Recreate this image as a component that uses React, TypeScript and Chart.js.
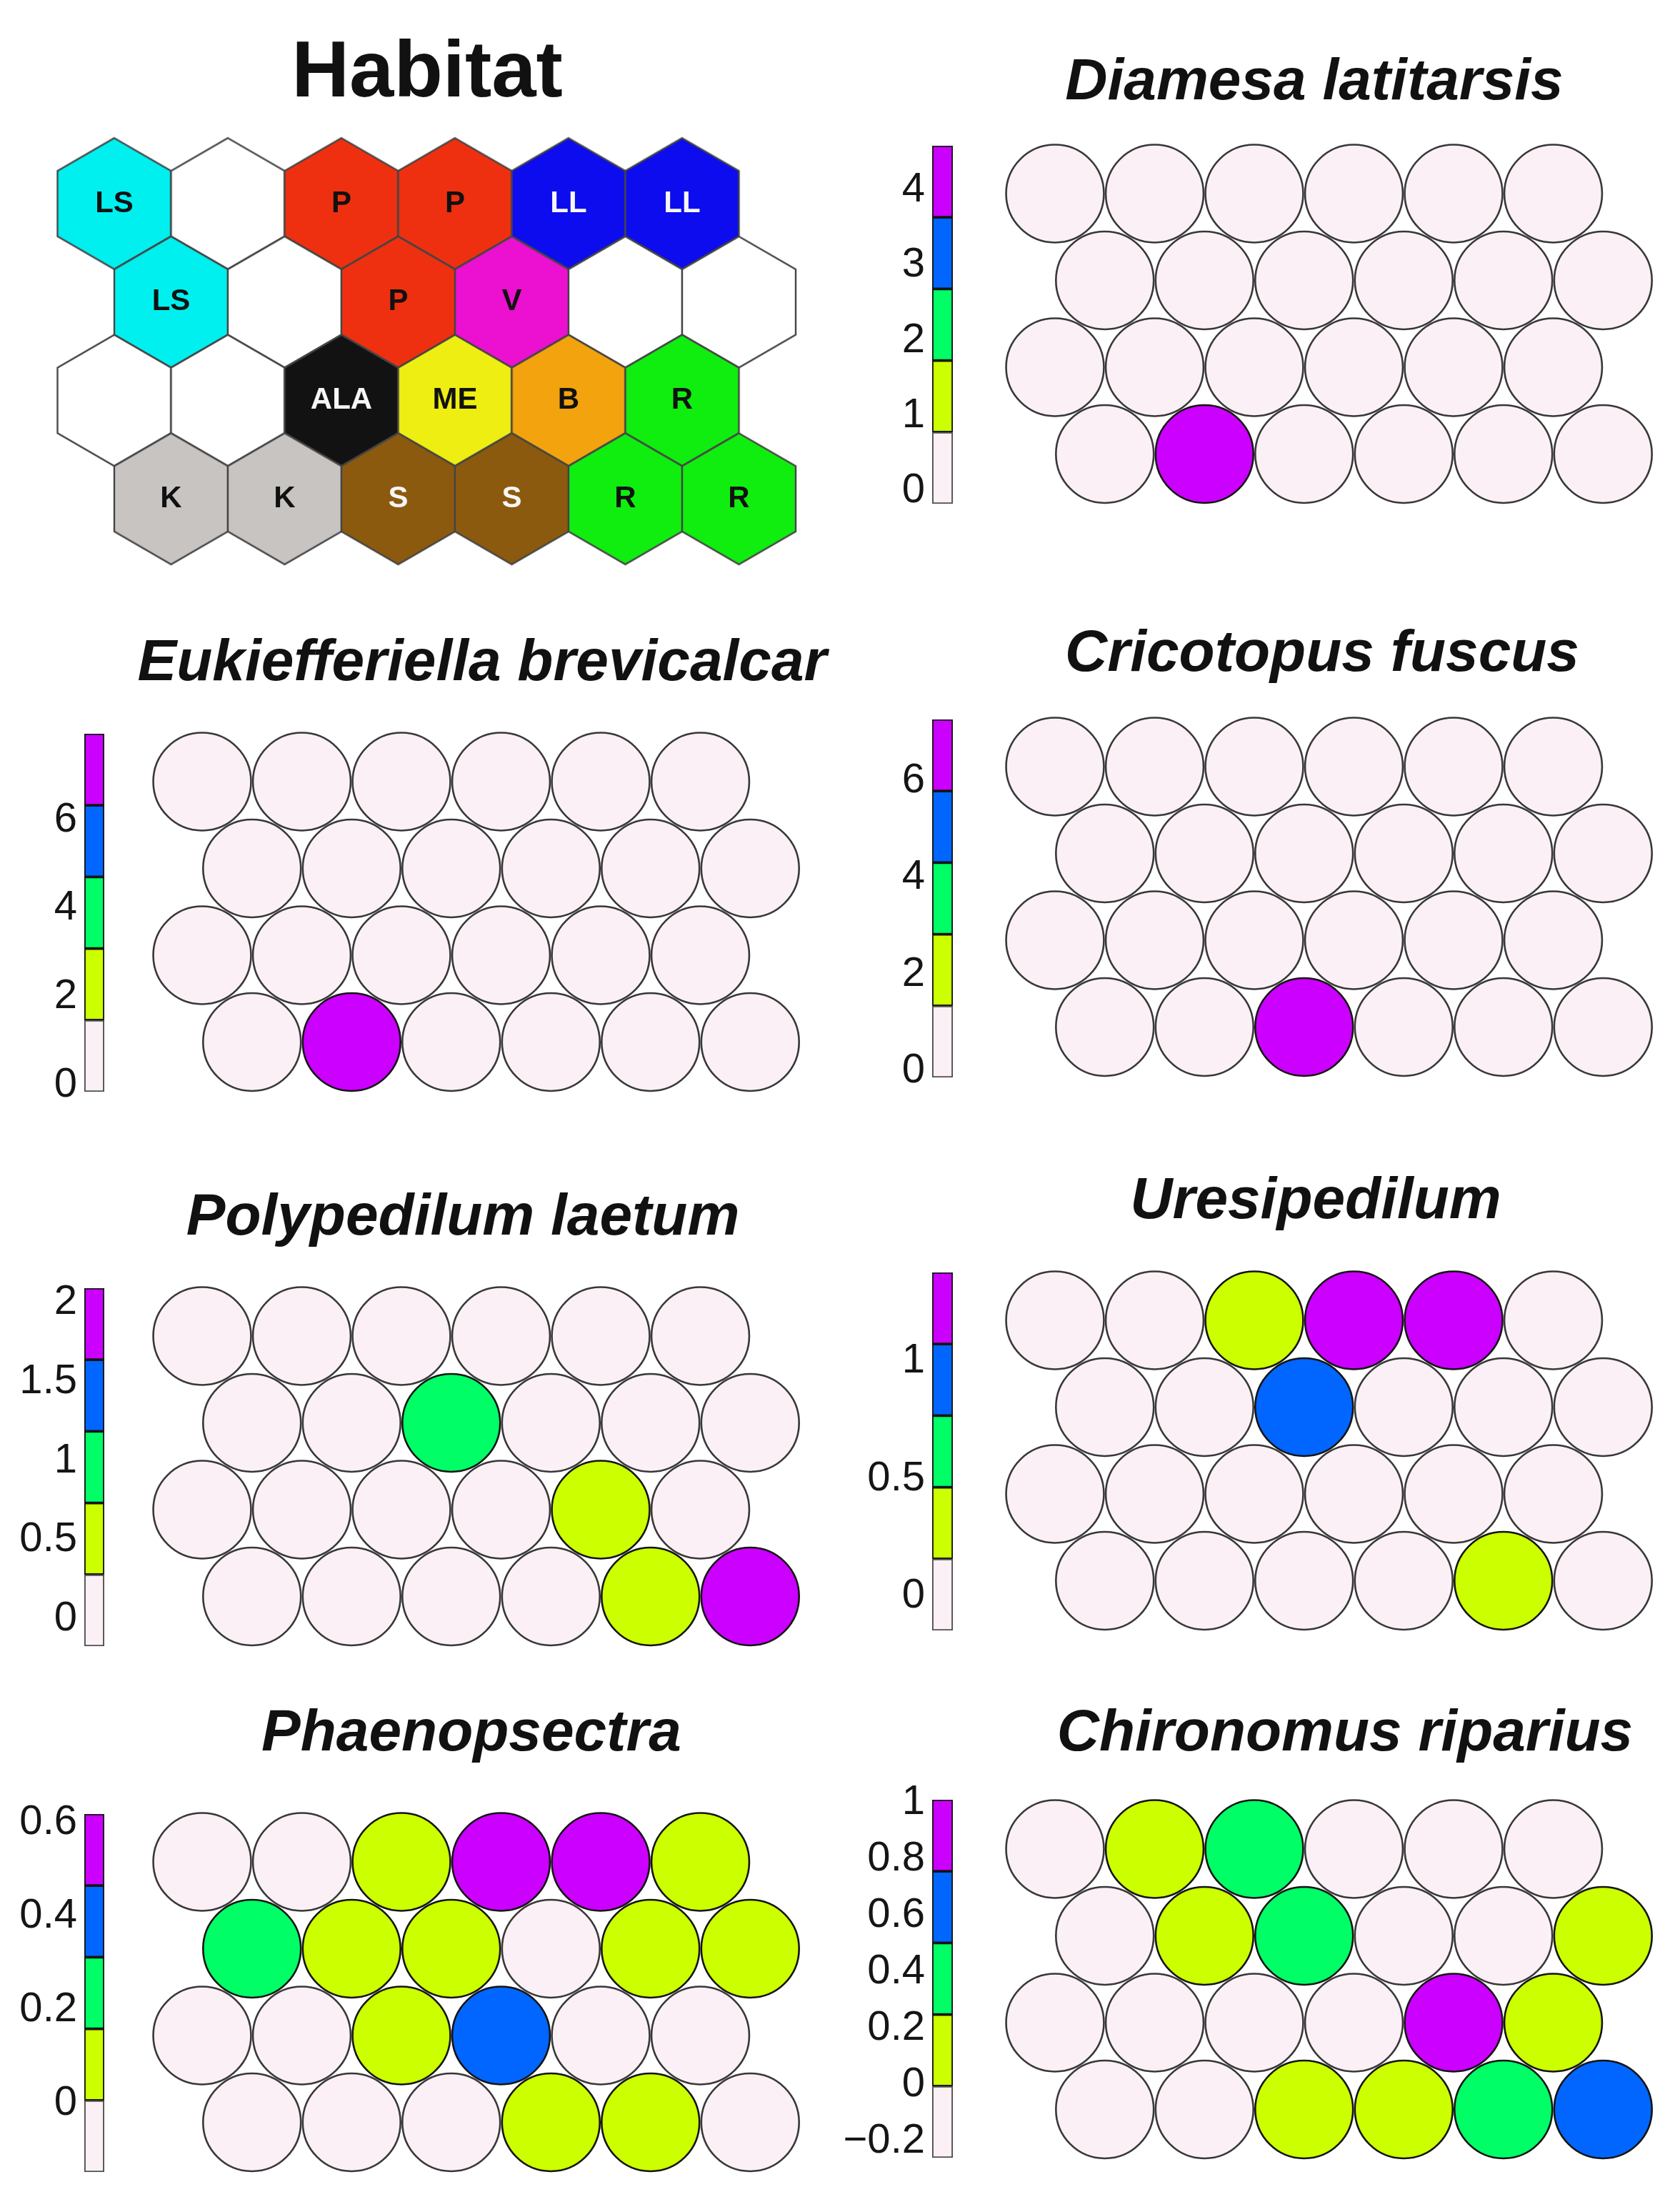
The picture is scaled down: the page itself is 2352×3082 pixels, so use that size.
import React, { useEffect, useRef } from 'react';
import { Chart, registerables } from 'chart.js';

Chart.register(...registerables);

const FONT = "'Liberation Sans', Arial, Helvetica, sans-serif";
Chart.defaults.font.family = FONT;

const PAGE_W = 2352;
const PAGE_H = 3082;

// ---------------- data ----------------
const MAP_ROWS = 4;
const MAP_COLS = 6;

const habitatLabels = [
  'LS', '', 'P', 'P', 'LL', 'LL',
  'LS', '', 'P', 'V', '', '',
  '', '', 'ALA', 'ME', 'B', 'R',
  'K', 'K', 'S', 'S', 'R', 'R',
];
const habitatColors: Record<string, string> = {
  '': '#ffffff',
  LS: '#00f0f0',
  P: '#ef3010',
  LL: '#0c0cee',
  V: '#ec10d0',
  ALA: '#121212',
  ME: '#eeee12',
  B: '#f2a30e',
  R: '#10ee10',
  K: '#c8c4c2',
  S: '#8c5a0e',
};
const habitatWhiteText = ['LL', 'ALA', 'S'];

const levelColors = ['#fbf0f5', '#ccff00', '#00ff66', '#0066ff', '#cc00ff'];

const diamesaValues = [
  0, 0, 0, 0, 0, 0,
  0, 0, 0, 0, 0, 0,
  0, 0, 0, 0, 0, 0,
  0, 4.5, 0, 0, 0, 0,
];
const diamesaRange = [-0.17, 4.59];
const diamesaTicks = [0, 1, 2, 3, 4];

const eukiefferiellaValues = [
  0, 0, 0, 0, 0, 0,
  0, 0, 0, 0, 0, 0,
  0, 0, 0, 0, 0, 0,
  0, 7.9, 0, 0, 0, 0,
];
const eukiefferiellaRange = [-0.15, 7.95];
const eukiefferiellaTicks = [0, 2, 4, 6];

const cricotopusValues = [
  0, 0, 0, 0, 0, 0,
  0, 0, 0, 0, 0, 0,
  0, 0, 0, 0, 0, 0,
  0, 0, 7.2, 0, 0, 0,
];
const cricotopusRange = [-0.13, 7.27];
const cricotopusTicks = [0, 2, 4, 6];

const polypedilumValues = [
  0, 0, 0, 0, 0, 0,
  0, 0, 1.0, 0, 0, 0,
  0, 0, 0, 0, 0.5, 0,
  0, 0, 0, 0, 0.5, 2.0,
];
const polypedilumRange = [-0.17, 2.09];
const polypedilumTicks = [0, 0.5, 1, 1.5, 2];

const uresipedilumValues = [
  0, 0, 0.3, 1.3, 1.3, 0,
  0, 0, 0.9, 0, 0, 0,
  0, 0, 0, 0, 0, 0,
  0, 0, 0, 0, 0.3, 0,
];
const uresipedilumRange = [-0.146, 1.378];
const uresipedilumTicks = [0, 0.5, 1];

const phaenopsectraValues = [
  0, 0, 0.1, 0.55, 0.55, 0.1,
  0.25, 0.1, 0.1, 0, 0.1, 0.1,
  0, 0, 0.1, 0.4, 0, 0,
  0, 0, 0, 0.1, 0.1, 0,
];
const phaenopsectraRange = [-0.146, 0.619];
const phaenopsectraTicks = [0, 0.2, 0.4, 0.6];

const chironomusValues = [
  -0.1, 0.1, 0.38, -0.1, -0.1, -0.1,
  -0.1, 0.1, 0.38, -0.1, -0.1, 0.1,
  -0.1, -0.1, -0.1, -0.1, 0.95, 0.1,
  -0.1, -0.1, 0.1, 0.1, 0.38, 0.65,
];
const chironomusRange = [-0.258, 1.01];
const chironomusTicks = [-0.2, 0, 0.2, 0.4, 0.6, 0.8, 1];

// ---------------- layout ----------------
const SOM_PITCH = 139.5;
const SOM_ROWP = 121.5;
const HEX_PITCH = 159;
const HEX_ROWP = 137.7;
const BAR_H = 501;
const LEFT = { x0: 283, barL: 118, barR: 146, labelW: 110 };
const RIGHT = { x0: 1477, barL: 1305, barR: 1334, labelW: 140 };

type Panel = {
  title: string;
  values: number[];
  range: number[];
  ticks: number[];
  side: typeof LEFT;
  y0: number;
  xc: number;
  yb: number;
  barT: number;
};

const panels: Panel[] = [
  { title: 'Diamesa latitarsis', values: diamesaValues, range: diamesaRange, ticks: diamesaTicks, side: RIGHT, y0: 271, xc: 1840, yb: 145, barT: 204 },
  { title: 'Eukiefferiella brevicalcar', values: eukiefferiellaValues, range: eukiefferiellaRange, ticks: eukiefferiellaTicks, side: LEFT, y0: 1094, xc: 675, yb: 958, barT: 1027 },
  { title: 'Cricotopus fuscus', values: cricotopusValues, range: cricotopusRange, ticks: cricotopusTicks, side: RIGHT, y0: 1073, xc: 1851, yb: 945, barT: 1007 },
  { title: 'Polypedilum laetum', values: polypedilumValues, range: polypedilumRange, ticks: polypedilumTicks, side: LEFT, y0: 1870, xc: 648, yb: 1734, barT: 1803 },
  { title: 'Uresipedilum', values: uresipedilumValues, range: uresipedilumRange, ticks: uresipedilumTicks, side: RIGHT, y0: 1848, xc: 1842, yb: 1711, barT: 1781 },
  { title: 'Phaenopsectra', values: phaenopsectraValues, range: phaenopsectraRange, ticks: phaenopsectraTicks, side: LEFT, y0: 2606, xc: 660, yb: 2456, barT: 2539 },
  { title: 'Chironomus riparius', values: chironomusValues, range: chironomusRange, ticks: chironomusTicks, side: RIGHT, y0: 2588, xc: 1883, yb: 2456, barT: 2519 },
];

// ---------------- helpers ----------------
const latticeX = (i: number) => (i % MAP_COLS) + (Math.floor(i / MAP_COLS) % 2 ? 0.5 : 0);
const latticeY = (i: number) => Math.floor(i / MAP_COLS);

type Box = { x: number; y: number; w: number; h: number };

function frame(xc: number, yb: number, size: number, x0: number, y0: number, p: number, q: number, ext: number, half: number) {
  const L = Math.max(0, Math.round(xc - half));
  const R = Math.min(PAGE_W, Math.round(xc + half));
  const padL = Math.max(0, 2 * xc - L - R);
  const padR = Math.max(0, L + R - 2 * xc);
  const lineH = size * 1.2;
  const T = Math.round(yb - 0.3465 * size - lineH / 2);
  const top = T + lineH;
  const B = Math.round(y0 + (MAP_ROWS - 1) * q + ext + 8);
  return {
    box: { x: L, y: T, w: R - L, h: B - T } as Box,
    padL,
    padR,
    xMin: (L + padL - x0) / p,
    xMax: (R - padR - x0) / p,
    yMin: (top - y0) / q,
    yMax: (B - y0) / q,
  };
}

const hexCache = new Map<string, HTMLCanvasElement>();
function hexImage(color: string, R: number): HTMLCanvasElement {
  const key = color + '|' + R.toFixed(2);
  const hit = hexCache.get(key);
  if (hit) return hit;
  const lw = 2.4;
  const S = Math.ceil(R * 2 + lw * 2 + 4);
  const c = document.createElement('canvas');
  c.width = S;
  c.height = S;
  const g = c.getContext('2d')!;
  const cx = S / 2;
  g.beginPath();
  for (let k = 0; k < 6; k++) {
    const a = ((-90 + 60 * k) * Math.PI) / 180;
    const px = cx + R * Math.cos(a);
    const py = cx + R * Math.sin(a);
    if (k === 0) g.moveTo(px, py);
    else g.lineTo(px, py);
  }
  g.closePath();
  g.fillStyle = color;
  g.fill();
  g.lineWidth = lw;
  g.strokeStyle = '#454545';
  g.lineJoin = 'miter';
  g.stroke();
  hexCache.set(key, c);
  return c;
}

const fmtTick = (v: number) => String(Number(v.toFixed(3))).replace('-', '\u2212');

function baseOptions(padL: number, padR: number) {
  return {
    responsive: false,
    animation: false as const,
    devicePixelRatio: 1,
    events: [] as any[],
    layout: { padding: { left: padL, right: padR, top: 0, bottom: 0 }, autoPadding: false },
  };
}

function habitatConfig() {
  const x0 = 160;
  const y0 = 285;
  const f = frame(598, 143, 112, x0, y0, HEX_PITCH, HEX_ROWP, 92, 560);
  const labelPlugin = {
    id: 'hexLabels',
    afterDatasetsDraw(chart: any) {
      const meta = chart.getDatasetMeta(0);
      const ctx = chart.ctx;
      ctx.save();
      ctx.font = `bold 42px ${FONT}`;
      ctx.textAlign = 'center';
      ctx.textBaseline = 'middle';
      meta.data.forEach((el: any, i: number) => {
        const t = habitatLabels[i];
        if (!t) return;
        ctx.fillStyle = habitatWhiteText.includes(t) ? '#f6f6f6' : '#111111';
        ctx.fillText(t, el.x, el.y);
      });
      ctx.restore();
    },
  };
  const config: any = {
    type: 'scatter',
    data: {
      datasets: [
        {
          data: habitatLabels.map((_, i) => ({ x: latticeX(i), y: latticeY(i) })),
          pointStyle: (c: any) => {
            const s = c.chart.scales.x;
            const p = Math.abs(s.getPixelForValue(1) - s.getPixelForValue(0));
            return hexImage(habitatColors[habitatLabels[c.dataIndex]] || '#ffffff', p / Math.sqrt(3));
          },
          pointRadius: 40,
          clip: false,
        },
      ],
    },
    options: {
      ...baseOptions(f.padL, f.padR),
      plugins: {
        legend: { display: false },
        tooltip: { enabled: false },
        title: {
          display: true,
          text: 'Habitat',
          color: '#111111',
          padding: 0,
          font: { size: 112, weight: 'bold', family: FONT, lineHeight: 1.2 },
        },
      },
      scales: {
        x: { type: 'linear', display: false, min: f.xMin, max: f.xMax },
        y: { type: 'linear', display: false, reverse: true, min: f.yMin, max: f.yMax },
      },
    },
    plugins: [labelPlugin],
  };
  return { box: f.box, config };
}

function somConfig(panel: Panel) {
  const x0 = panel.side.x0;
  const f = frame(panel.xc, panel.yb, 82, x0, panel.y0, SOM_PITCH, SOM_ROWP, SOM_PITCH / 2, 560);
  const [lo, hi] = panel.range;
  const level = (v: number) => Math.min(4, Math.max(0, Math.floor(((v - lo) / (hi - lo)) * 5)));
  const config: any = {
    type: 'scatter',
    data: {
      datasets: [
        {
          data: panel.values.map((_, i) => ({ x: latticeX(i), y: latticeY(i) })),
          pointStyle: 'circle',
          pointBackgroundColor: panel.values.map((v) => levelColors[level(v)]),
          pointBorderColor: panel.values.map((v) => (level(v) === 0 ? '#383838' : '#141414')),
          pointBorderWidth: 2.6,
          pointRadius: (c: any) => {
            const s = c.chart.scales.x;
            return Math.abs(s.getPixelForValue(1) - s.getPixelForValue(0)) / 2 - 1.3;
          },
          clip: false,
        },
      ],
    },
    options: {
      ...baseOptions(f.padL, f.padR),
      plugins: {
        legend: { display: false },
        tooltip: { enabled: false },
        title: {
          display: true,
          text: panel.title,
          color: '#111111',
          padding: 0,
          font: { size: 82, weight: 'bold', style: 'italic', family: FONT, lineHeight: 1.2 },
        },
      },
      scales: {
        x: { type: 'linear', display: false, min: f.xMin, max: f.xMax },
        y: { type: 'linear', display: false, reverse: true, min: f.yMin, max: f.yMax },
      },
    },
  };
  return { box: f.box, config };
}

function colorbarConfig(panel: Panel) {
  const side = panel.side;
  const [lo, hi] = panel.range;
  const w = (hi - lo) / 5;
  const padV = 45;
  const padR = 3;
  const box: Box = {
    x: side.barL - side.labelW,
    y: panel.barT - padV,
    w: side.labelW + (side.barR - side.barL) + padR,
    h: BAR_H + padV * 2,
  };
  const config: any = {
    type: 'bar',
    data: {
      labels: [''],
      datasets: levelColors.map((c, k) => ({
        data: [[lo + k * w, lo + (k + 1) * w]],
        backgroundColor: c,
        borderColor: k === 0 ? '#505050' : '#151515',
        borderWidth: 2.2,
        borderSkipped: false,
        grouped: false,
        categoryPercentage: 1,
        barPercentage: 1,
      })),
    },
    options: {
      responsive: false,
      animation: false,
      devicePixelRatio: 1,
      events: [],
      layout: { padding: { left: 0, right: padR, top: padV, bottom: padV }, autoPadding: false },
      plugins: { legend: { display: false }, tooltip: { enabled: false }, title: { display: false } },
      scales: {
        x: { display: false },
        y: {
          position: 'left',
          min: lo,
          max: hi,
          afterBuildTicks: (s: any) => {
            s.ticks = panel.ticks.map((v) => ({ value: v }));
          },
          afterFit: (s: any) => {
            s.width = side.labelW;
          },
          grid: { display: false, drawTicks: false },
          border: { display: false },
          ticks: {
            autoSkip: false,
            padding: 10,
            color: '#151515',
            font: { size: 58, family: FONT },
            callback: (v: any) => fmtTick(Number(v)),
          },
        },
      },
    },
  };
  return { box, config };
}

// ---------------- components ----------------
function ChartCanvas({ box, config }: { box: Box; config: any }) {
  const ref = useRef<HTMLCanvasElement>(null);
  useEffect(() => {
    const chart = new Chart(ref.current as HTMLCanvasElement, config);
    return () => chart.destroy();
  }, []);
  return (
    <canvas
      ref={ref}
      width={box.w}
      height={box.h}
      style={{ position: 'absolute', left: box.x, top: box.y, width: box.w, height: box.h }}
    />
  );
}

export default function App() {
  const habitat = habitatConfig();
  const soms = panels.map(somConfig);
  const bars = panels.map(colorbarConfig);
  return (
    <div
      style={{
        position: 'absolute',
        left: 0,
        top: 0,
        width: PAGE_W,
        height: PAGE_H,
        background: '#ffffff',
        overflow: 'hidden',
      }}
    >
      <ChartCanvas box={habitat.box} config={habitat.config} />
      {soms.map((s, i) => (
        <ChartCanvas key={'som' + i} box={s.box} config={s.config} />
      ))}
      {bars.map((b, i) => (
        <ChartCanvas key={'bar' + i} box={b.box} config={b.config} />
      ))}
    </div>
  );
}
